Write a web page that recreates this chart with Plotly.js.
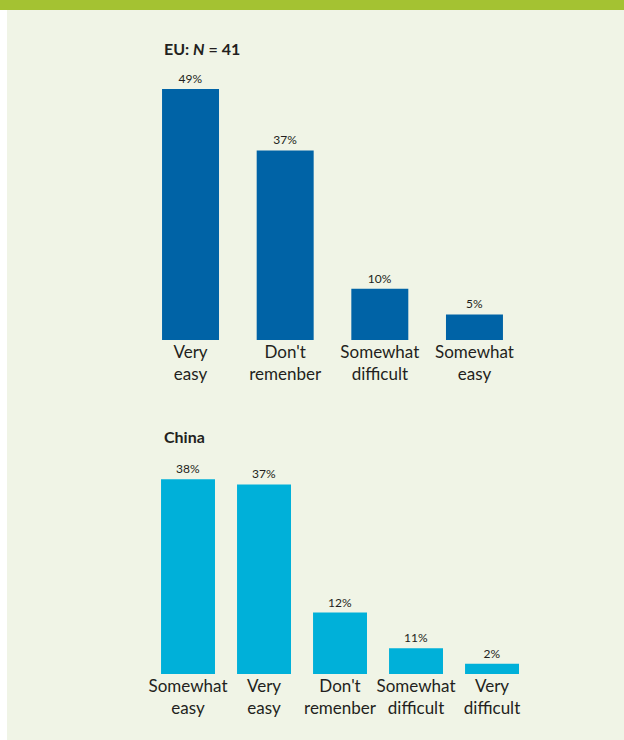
<!DOCTYPE html>
<html>
<head>
<meta charset="utf-8">
<script src="https://cdn.plot.ly/plotly-3.0.1.min.js"></script>
<style>
  html, body { margin: 0; padding: 0; background: #ffffff; }
  #chart { width: 624px; height: 740px; }
</style>
</head>
<body>
<div id="chart"></div>
<script>
// ---- Data ----
const euCategories = ["Very<br>easy", "Don't<br>remenber", "Somewhat<br>difficult", "Somewhat<br>easy"];
const euValues = [49, 37, 10, 5];
const euLabels = ["49%", "37%", "10%", "5%"];
const euTitle = "EU: <i>N</i> = 41";

const chinaCategories = ["Somewhat<br>easy", "Very<br>easy", "Don't<br>remenber", "Somewhat<br>difficult", "Very<br>difficult"];
// bar heights as drawn in the reference (the 4th bar is drawn shorter than its 11% label)
const chinaValues = [38, 37, 12, 5, 2];
const chinaLabels = ["38%", "37%", "12%", "11%", "2%"];
const chinaTitle = "China";

// ---- Styles ----
const textColor = "#231f20";
const euColor = "#0063a6";
const chinaColor = "#00b0d9";
const panelColor = "#f0f4e6";
const bandColor = "#a4c232";
const fontFamily = "Lato, 'Open Sans', sans-serif";

const traces = [
  {
    type: "bar",
    x: euCategories,
    y: euValues,
    xaxis: "x", yaxis: "y",
    marker: { color: euColor },
    width: 0.602,
    text: euLabels,
    textposition: "outside",
    cliponaxis: false,
    textfont: { family: fontFamily, size: 12, color: textColor },
    hoverinfo: "skip"
  },
  {
    type: "bar",
    x: chinaCategories,
    y: chinaValues,
    xaxis: "x2", yaxis: "y2",
    marker: { color: chinaColor },
    width: 0.71,
    text: chinaLabels,
    textposition: "outside",
    cliponaxis: false,
    textfont: { family: fontFamily, size: 12, color: textColor },
    hoverinfo: "skip"
  }
];

const catAxis = {
  type: "category",
  showgrid: false, zeroline: false, showline: false,
  ticks: "",
  tickangle: 0,
  tickfont: { family: fontFamily, size: 17, color: textColor },
  fixedrange: true
};
const valAxis = {
  showgrid: false, zeroline: false, showline: false,
  showticklabels: false, ticks: "",
  fixedrange: true
};

const layout = {
  width: 624, height: 740,
  margin: { l: 0, r: 0, t: 0, b: 0 },
  paper_bgcolor: panelColor,
  plot_bgcolor: "rgba(0,0,0,0)",
  showlegend: false,
  font: { family: fontFamily, color: textColor },
  xaxis: Object.assign({}, catAxis, { domain: [0.2295, 0.8362], range: [-0.5, 3.5], anchor: "y" }),
  yaxis: Object.assign({}, valAxis, { domain: [0.5405, 0.8868], range: [0, 50], anchor: "x" }),
  xaxis2: Object.assign({}, catAxis, { domain: [0.2404, 0.8494], range: [-0.5, 4.5], anchor: "y2" }),
  yaxis2: Object.assign({}, valAxis, { domain: [0.0892, 0.3662], range: [0, 40], anchor: "x2" }),
  shapes: [
    { type: "rect", xref: "paper", yref: "paper", x0: 0, x1: 1, y0: 0.9865, y1: 1.01,
      fillcolor: bandColor, line: { width: 0 }, layer: "below" },
    { type: "rect", xref: "paper", yref: "paper", x0: -0.01, x1: 0.0112, y0: -0.01, y1: 0.9865,
      fillcolor: "#ffffff", line: { width: 0 }, layer: "below" }
  ],
  annotations: [
    { xref: "paper", yref: "paper", x: 0.2596, y: 0.9338, xanchor: "left", yanchor: "middle",
      text: "<b>" + euTitle + "</b>", showarrow: false,
      font: { family: fontFamily, size: 16, color: textColor } },
    { xref: "paper", yref: "paper", x: 0.2596, y: 0.4095, xanchor: "left", yanchor: "middle",
      text: "<b>" + chinaTitle + "</b>", showarrow: false,
      font: { family: fontFamily, size: 16, color: textColor } }
  ]
};

Plotly.newPlot("chart", traces, layout, { displayModeBar: false, staticPlot: true });
</script>
</body>
</html>
